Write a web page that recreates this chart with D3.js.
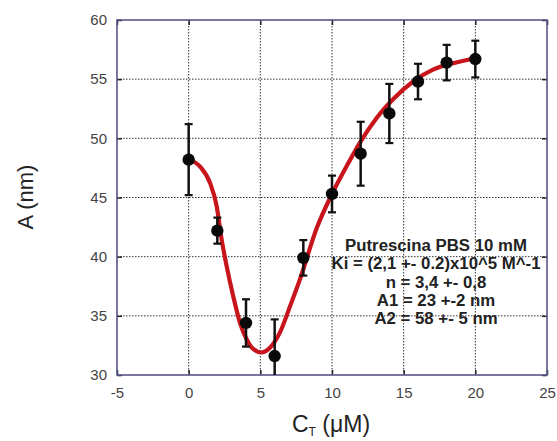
<!DOCTYPE html>
<html><head><meta charset="utf-8">
<script src="https://cdn.jsdelivr.net/npm/d3@7"></script>
<style>body{margin:0;background:#fff}svg{display:block}</style>
</head><body>
<script>
// Data
const xVals = [0, 2, 4, 6, 8, 10, 12, 14, 16, 18, 20];
const yVals = [48.2, 42.2, 34.4, 31.6, 39.9, 45.3, 48.7, 52.1, 54.8, 56.4, 56.7];
const yErr  = [3.0, 1.1, 2.0, 3.1, 1.5, 1.55, 2.7, 2.5, 1.5, 1.5, 1.55];
const fitX = [0, 0.8, 1.5, 1.95, 2.3, 2.65, 3.1, 3.58, 4.05, 4.5, 5.08, 5.67, 6.37, 7.07, 7.77, 8.93, 9.98, 11.0, 11.93, 13.1, 14.26, 15.66, 17.05, 18.45, 20.0];
const fitY = [48.2, 47.6, 46.2, 44.3, 41.45, 39.2, 36.7, 34.4, 33.0, 32.2, 31.9, 32.3, 33.6, 35.8, 38.1, 42.4, 45.25, 47.6, 49.6, 51.7, 53.3, 54.8, 55.8, 56.35, 56.75];
const xTicks = [-5, 0, 5, 10, 15, 20, 25];
const yTicks = [30, 35, 40, 45, 50, 55, 60];
const annotation = ["Putrescina PBS 10 mM", "Ki = (2,1 +- 0.2)x10^5 M^-1", "n = 3,4 +- 0,8", "A1 = 23 +-2 nm", "A2 = 58 +- 5 nm"];

const W = 557, H = 441;
const m = {left: 117, top: 20, right: 10, bottom: 66};
const iw = W - m.left - m.right, ih = H - m.top - m.bottom;
const FONT = "Liberation Sans, Arial, sans-serif";

const svg = d3.select("body").append("svg").attr("width", W).attr("height", H);
const x = d3.scaleLinear().domain([-5, 25]).range([m.left, m.left + iw]);
const y = d3.scaleLinear().domain([30, 60]).range([m.top + ih, m.top]);

svg.append("defs").append("clipPath").attr("id","clip").append("rect")
  .attr("x", m.left).attr("y", m.top).attr("width", iw).attr("height", ih);

// grid
const grid = svg.append("g");
grid.selectAll(".gx").data(xTicks.slice(1, -1)).join("line")
  .attr("x1", d => x(d)).attr("x2", d => x(d)).attr("y1", m.top).attr("y2", m.top + ih)
  .attr("stroke", "#333").attr("stroke-width", 1).attr("stroke-dasharray", "1.5,1.5");
grid.selectAll(".gy").data(yTicks.slice(1, -1)).join("line")
  .attr("y1", d => y(d)).attr("y2", d => y(d)).attr("x1", m.left).attr("x2", m.left + iw)
  .attr("stroke", "#333").attr("stroke-width", 1).attr("stroke-dasharray", "1.5,1.5");

// inward ticks via axes
const tk = 5;
const axB = svg.append("g").attr("transform", `translate(0,${m.top + ih})`)
  .call(d3.axisBottom(x).tickValues(xTicks).tickSize(-tk).tickPadding(12).tickFormat(d => String(d)));
const axT = svg.append("g").attr("transform", `translate(0,${m.top})`)
  .call(d3.axisTop(x).tickValues(xTicks).tickSize(-tk).tickFormat(""));
const axL = svg.append("g").attr("transform", `translate(${m.left},0)`)
  .call(d3.axisLeft(y).tickValues(yTicks).tickSize(-tk).tickPadding(10).tickFormat(d => String(d)));
const axR = svg.append("g").attr("transform", `translate(${m.left + iw},0)`)
  .call(d3.axisRight(y).tickValues(yTicks).tickSize(-tk).tickFormat(""));
[axB, axT, axL, axR].forEach(a => {
  a.select(".domain").remove();
  a.selectAll(".tick line").attr("stroke", "#222").attr("stroke-width", 1.5);
  a.selectAll("text").attr("font-family", FONT).attr("font-size", 15).attr("fill", "#444");
});

// frame
svg.append("rect").attr("x", m.left).attr("y", m.top).attr("width", iw).attr("height", ih)
  .attr("fill", "none").attr("stroke", "#55558a").attr("stroke-width", 1.6);

// fit curve
const pts = fitX.map((d, i) => [d, fitY[i]]);
svg.append("path").datum(pts)
  .attr("clip-path", "url(#clip)")
  .attr("d", d3.line().x(d => x(d[0])).y(d => y(d[1])).curve(d3.curveMonotoneX))
  .attr("fill", "none").attr("stroke", "#c8151b").attr("stroke-width", 4.2)
  .attr("stroke-linecap", "round");

// error bars
const eb = svg.append("g").attr("clip-path", "url(#clip)");
xVals.forEach((xv, i) => {
  const lo = yVals[i] - yErr[i], hi = yVals[i] + yErr[i];
  eb.append("line").attr("x1", x(xv)).attr("x2", x(xv)).attr("y1", y(lo)).attr("y2", y(hi))
    .attr("stroke", "#111").attr("stroke-width", 2.5);
  [lo, hi].forEach(v => eb.append("line").attr("x1", x(xv) - 4).attr("x2", x(xv) + 4)
    .attr("y1", y(v)).attr("y2", y(v)).attr("stroke", "#111").attr("stroke-width", 2.2));
});
svg.append("g").selectAll("circle").data(xVals).join("circle")
  .attr("cx", d => x(d)).attr("cy", (d, i) => y(yVals[i])).attr("r", 6.2).attr("fill", "#0a0a0a");

// annotation
const ann = svg.append("text").attr("font-family", FONT)
  .attr("font-weight", "bold").attr("font-size", 16.8).attr("fill", "#222").attr("text-anchor", "middle");
annotation.forEach((t, i) => ann.append("tspan").attr("x", 436).attr("y", 251 + i * 18.3).text(t));

// axis titles
svg.append("text").attr("transform", "translate(33,197) rotate(-90)").attr("text-anchor", "middle")
  .attr("font-family", FONT).attr("font-size", 22).attr("fill", "#222")
  .text("A (nm)");
const xt = svg.append("text").attr("x", 331).attr("y", 432).attr("text-anchor", "middle")
  .attr("font-family", FONT).attr("font-size", 23).attr("fill", "#222");
xt.append("tspan").text("C");
xt.append("tspan").attr("font-size", 12).attr("dy", 4).text("T");
xt.append("tspan").attr("dy", -4).text(" (μM)");
</script>
</body></html>
